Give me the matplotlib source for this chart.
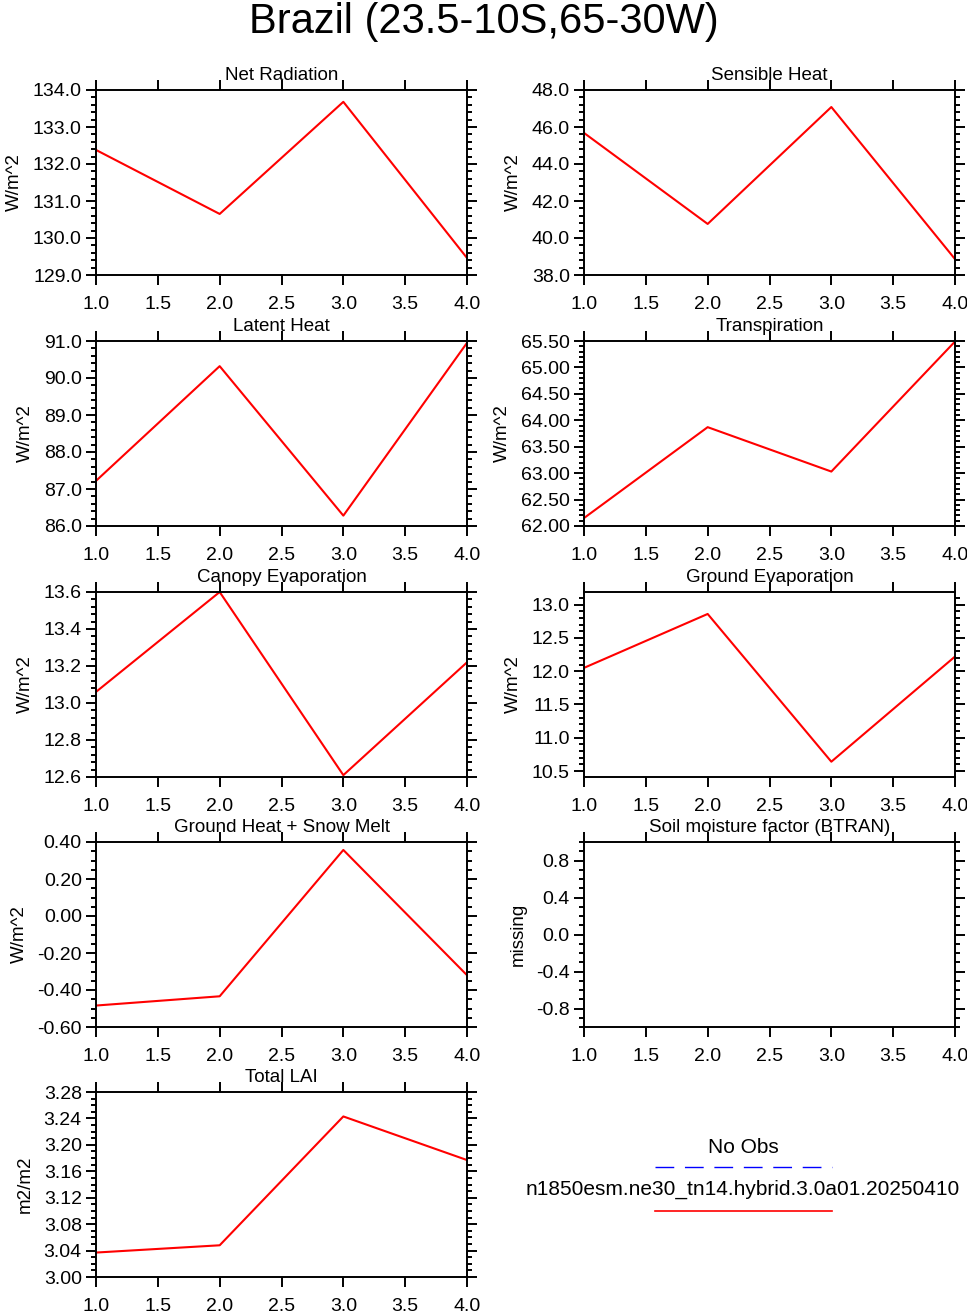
import matplotlib
matplotlib.use("Agg")
import matplotlib.pyplot as plt
from matplotlib.ticker import MultipleLocator, FormatStrFormatter

plt.rcParams['font.family'] = ['Liberation Sans', 'DejaVu Sans']
plt.rcParams['axes.unicode_minus'] = False

# x values (years) shared by all panels
years = [1.0, 2.0, 3.0, 4.0]

# series
net_radiation = [132.38, 130.65, 133.68, 129.46]
sensible_heat = [45.68, 40.76, 47.08, 38.86]
latent_heat = [87.22, 90.32, 86.28, 90.95]
transpiration = [62.15, 63.87, 63.03, 65.49]
canopy_evap = [13.06, 13.60, 12.61, 13.22]
ground_evap = [12.05, 12.86, 10.64, 12.22]
ground_heat = [-0.484, -0.434, 0.357, -0.32]
btran = []  # missing
total_lai = [3.037, 3.048, 3.243, 3.177]

titles = ["Net Radiation", "Sensible Heat", "Latent Heat", "Transpiration",
          "Canopy Evaporation", "Ground Evaporation", "Ground Heat + Snow Melt",
          "Soil moisture factor (BTRAN)", "Total LAI"]
units = ["W/m^2", "W/m^2", "W/m^2", "W/m^2", "W/m^2", "W/m^2", "W/m^2",
         "missing", "m2/m2"]
series = [net_radiation, sensible_heat, latent_heat, transpiration,
          canopy_evap, ground_evap, ground_heat, btran, total_lai]

# axis settings per panel: ylim, major step, minor step, label format
ylims = [(129.0, 134.0), (38.0, 48.0), (86.0, 91.0), (62.0, 65.5),
         (12.6, 13.6), (10.41, 13.19), (-0.6, 0.4), (-1.0, 1.0), (3.0, 3.28)]
major_steps = [1.0, 2.0, 1.0, 0.5, 0.2, 0.5, 0.2, 0.4, 0.04]
minor_steps = [0.2, 0.4, 0.2, 0.1, 0.04, 0.1, 0.05, 0.1, 0.01]
formats = ["%.1f", "%.1f", "%.1f", "%.2f", "%.1f", "%.1f", "%.2f", "%.1f", "%.2f"]

legend_labels = ["No Obs", "n1850esm.ne30_tn14.hybrid.3.0a01.20250410"]

W, H = 967, 1314
fig = plt.figure(figsize=(W / 100, H / 100), dpi=100)

fig.text(0.5, 1 - 33 / H, "Brazil (23.5-10S,65-30W)", ha='center',
         va='baseline', fontsize=30)

col_x = [96, 584]
row_top = [90, 341, 592, 842, 1092]
ax_w, ax_h = 371, 185

for i in range(9):
    r, c = divmod(i, 2)
    ax = fig.add_axes([col_x[c] / W, 1 - (row_top[r] + ax_h) / H, ax_w / W, ax_h / H])
    if series[i]:
        ax.plot(years, series[i], color='red', lw=1.5)
    ax.set_xlim(1.0, 4.0)
    ax.set_ylim(*ylims[i])
    ax.xaxis.set_major_locator(MultipleLocator(0.5))
    ax.xaxis.set_major_formatter(FormatStrFormatter("%.1f"))
    ax.yaxis.set_major_locator(MultipleLocator(major_steps[i]))
    ax.yaxis.set_minor_locator(MultipleLocator(minor_steps[i]))
    ax.yaxis.set_major_formatter(FormatStrFormatter(formats[i]))
    ax.tick_params(which='both', direction='out', top=True, right=True,
                   width=1.4, labelsize=14)
    ax.tick_params(which='major', length=7.2, pad=3)
    ax.tick_params(axis='x', which='major', pad=8)
    ax.tick_params(which='minor', length=3.6)
    for s in ax.spines.values():
        s.set_linewidth(1.4)
    ax.set_ylabel(units[i], fontsize=13.5, labelpad=7)
    ax.text(0.5, 1.0 + 10 / ax_h, titles[i], transform=ax.transAxes,
            ha='center', va='baseline', fontsize=13.5)

# legend area in the empty lower-right slot
lax = fig.add_axes([col_x[1] / W, 1 - (row_top[4] + ax_h) / H, ax_w / W, ax_h / H])
lax.set_xlim(0, ax_w)
lax.set_ylim(ax_h, 0)
lax.axis('off')
cx = 743 - col_x[1]
lax.text(cx, 1153 - row_top[4], legend_labels[0], ha='center', va='baseline', fontsize=15)
lax.plot([655 - col_x[1], 832 - col_x[1]], [1167 - row_top[4]] * 2, color='blue',
         lw=1.0, dashes=(13.5, 7.7))
lax.text(cx, 1195 - row_top[4], legend_labels[1], ha='center', va='baseline', fontsize=15)
lax.plot([655 - col_x[1], 832 - col_x[1]], [1211 - row_top[4]] * 2, color='red', lw=1.2)

fig.savefig("out.png", dpi=100)
